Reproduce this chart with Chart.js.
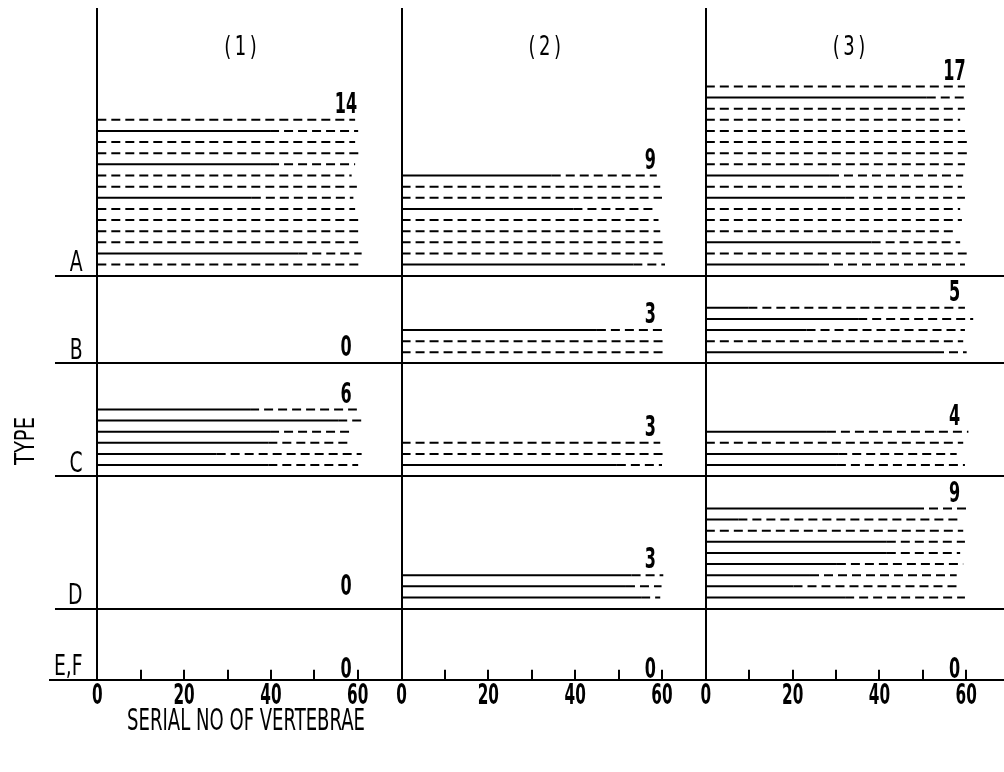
<!DOCTYPE html>
<html><head><meta charset="utf-8">
<script src="https://cdn.jsdelivr.net/npm/chart.js@4.4.1/dist/chart.umd.min.js"></script>
<style>html,body{margin:0;padding:0;background:#fff;}canvas{display:block;}</style>
</head><body>
<canvas id="c" width="1004" height="772"></canvas>
<script>
// ---------------- data ----------------
const COLUMN_LABELS = ['(1)', '(2)', '(3)'];
const TYPE_LABELS = ['A', 'B', 'C', 'D', 'E,F'];
const X_TICK_VALUES = [0, 10, 20, 30, 40, 50, 60];
const X_TICK_LABELS = ['0', '', '20', '', '40', '', '60'];
const X_TITLE = 'SERIAL NO OF VERTEBRAE';
const Y_TITLE = 'TYPE';

// each entry: [end of solid part, end of whole line] (serial no), listed top to bottom
const A1 = [[0,59.4],[39.8,60.1],[0,59.4],[0,60.5],[39.8,59.4],[0,58.6],[0,59.8],[35.6,59],[0,59.4],[0,60.1],[0,60.1],[0,60.1],[46.3,60.9],[0,60.9]];
const B1 = [];
const C1 = [[35.2,59.8],[55.5,60.9],[39.8,59],[39.4,58.6],[27.5,60.9],[39.4,60.1]];
const D1 = [];
const EF1 = [];

const A2 = [[34.6,58.8],[0,59.6],[0,60],[39.6,58.8],[0,59.2],[0,59.6],[0,60.7],[0,60.7],[53.4,60.7]];
const B2 = [[45,61.1],[0,61.1],[0,60.7]];
const C2 = [[0,59.6],[0,61.1],[49.6,60]];
const D2 = [[53,60.3],[51.7,59.9],[55.2,59.6]];
const EF2 = [];

const A3 = [[0,59.7],[50.9,59.7],[0,59.7],[0,58.6],[0,59.7],[0,60.5],[0,60.5],[0,59.7],[28.6,59.3],[0,59],[32.1,59.7],[0,58.6],[0,59],[0,57.4],[38.2,58.6],[0,60.1],[26.3,59.7]];
const B3 = [[9.8,59.7],[35.1,61.6],[23.2,59.7],[0,59.3],[52.8,60.1]];
const C3 = [[27.9,60.5],[0,59.3],[30.5,57.8],[30.2,59.7]];
const D3 = [[48.2,60.1],[7.5,58.6],[0,59.3],[41.7,59.7],[41.7,58.6],[30.2,59.3],[24,57.8],[20.2,58.6],[32.1,59.7]];
const EF3 = [];

const PANELS = [
  [A1, B1, C1, D1, EF1],
  [A2, B2, C2, D2, EF2],
  [A3, B3, C3, D3, EF3]
];

// ---------------- layout ----------------
const X_MIN = -10.9, X_MAX = 208.9;
const COL_OFFSET = [0, 70.1, 140.2];
const Y_MAX = 60.36;
const ROW_BASE = [36.31, 28.42, 18.29, 6.4, 0];
const ROW_LINE_START = -9.75;
const ZERO_LIFT = [2, 1.6, 2, 2.16, 1.1];
const FONT = '"Liberation Sans Narrow", "DejaVu Sans Condensed", sans-serif';

function lineY(row, idx, n) { return ROW_BASE[row] + 1 + (n - 1 - idx); }

const datasets = [];
PANELS.forEach((col, c) => {
  col.forEach((lines, r) => {
    lines.forEach((ln, i) => {
      const y = lineY(r, i, lines.length);
      const off = COL_OFFSET[c];
      datasets.push({
        data: [{x: off, y}, {x: off + ln[0], y}, {x: off + ln[1], y}],
        borderColor: '#000', borderWidth: 2, pointRadius: 0, showLine: true,
        borderCapStyle: 'butt', tension: 0,
        segment: { borderDash: ctx => ctx.p0DataIndex === 0 ? [] : [9, 5] }
      });
    });
  });
});

const allTicks = [];
COL_OFFSET.forEach(off => X_TICK_VALUES.forEach(v => allTicks.push(off + v)));

function tickLabel(value) {
  for (let c = 0; c < COL_OFFSET.length; c++) {
    for (let j = 0; j < X_TICK_VALUES.length; j++) {
      if (Math.abs(COL_OFFSET[c] + X_TICK_VALUES[j] - value) < 1e-6) return X_TICK_LABELS[j];
    }
  }
  return '';
}

function drawText(ctx, text, x, y, o) {
  ctx.save();
  ctx.translate(x, y);
  if (o.rotate) ctx.rotate(o.rotate);
  ctx.font = o.font;
  let sx = o.sx || 1;
  const sy = o.sy || 1;
  if (o.width) sx = o.width / ctx.measureText(text).width;
  ctx.scale(sx, sy);
  ctx.fillStyle = '#000';
  ctx.textAlign = o.align || 'center';
  ctx.textBaseline = 'alphabetic';
  ctx.fillText(text, 0, o.size * 0.36);
  ctx.restore();
}

const framePlugin = {
  id: 'frame',
  beforeDatasetsDraw(chart) {
    const {ctx} = chart;
    const xs = chart.scales.x, ys = chart.scales.y;
    ctx.save();
    ctx.strokeStyle = '#000';
    ctx.lineWidth = 2;
    for (let r = 0; r < ROW_BASE.length - 1; r++) {
      const y = Math.round(ys.getPixelForValue(ROW_BASE[r]));
      ctx.beginPath();
      ctx.moveTo(xs.getPixelForValue(ROW_LINE_START), y);
      ctx.lineTo(xs.getPixelForValue(X_MAX), y);
      ctx.stroke();
    }
    COL_OFFSET.forEach(off => {
      const x = Math.round(xs.getPixelForValue(off));
      ctx.beginPath();
      ctx.moveTo(x, ys.getPixelForValue(Y_MAX));
      ctx.lineTo(x, ys.getPixelForValue(0));
      ctx.stroke();
    });
    const yb = ys.getPixelForValue(0);
    COL_OFFSET.forEach(off => X_TICK_VALUES.forEach(v => {
      if (v === 0) return;
      const x = Math.round(xs.getPixelForValue(off + v));
      ctx.beginPath();
      ctx.moveTo(x, yb);
      ctx.lineTo(x, yb - 10);
      ctx.stroke();
    }));
    ctx.restore();
  },
  afterDraw(chart) {
    const {ctx} = chart;
    const xs = chart.scales.x, ys = chart.scales.y;
    // x tick labels, taken from the axis' own ticks (drawn condensed)
    const yb = ys.getPixelForValue(0);
    xs.ticks.forEach((t, i) => {
      const lab = tickLabel(t.value);
      if (!lab) return;
      drawText(ctx, lab, xs.getPixelForTick(i), yb + 14,
        {font: 'bold 20px ' + FONT, size: 20, sx: 0.85, sy: 1.38});
    });
    COLUMN_LABELS.forEach((t, c) => {
      const lab = t.split('').join('\u2009');
      drawText(ctx, lab, xs.getPixelForValue(COL_OFFSET[c] + 33), 45, {font: '20px ' + FONT, size: 20, sy: 1.35});
    });
    TYPE_LABELS.forEach((t, r) => {
      drawText(ctx, t, xs.getPixelForValue(-3.4), ys.getPixelForValue(ROW_BASE[r] + 1.3),
        {font: '22px ' + FONT, size: 22, sx: 0.95, sy: 1.28, align: 'right'});
    });
    PANELS.forEach((col, c) => col.forEach((lines, r) => {
      const n = lines.length;
      const yv = n > 0 ? lineY(r, 0, n) + 1.55 : ROW_BASE[r] + ZERO_LIFT[r];
      drawText(ctx, String(n), xs.getPixelForValue(COL_OFFSET[c] + 57.3), ys.getPixelForValue(yv),
        {font: 'bold 21px ' + FONT, size: 21, sx: 0.85, sy: 1.38});
    }));
    drawText(ctx, X_TITLE, 246, 719, {font: '22px ' + FONT, size: 22, sy: 1.4, width: 238});
    drawText(ctx, Y_TITLE, 25, 441, {font: '20px ' + FONT, size: 20, sy: 1.3, width: 48, rotate: -Math.PI / 2});
  }
};

new Chart(document.getElementById('c'), {
  type: 'scatter',
  data: { datasets },
  options: {
    responsive: false, animation: false, devicePixelRatio: 1,
    layout: { padding: { left: 50, right: 0, top: 8, bottom: 57 } },
    plugins: { legend: { display: false }, tooltip: { enabled: false } },
    scales: {
      x: {
        type: 'linear', min: X_MIN, max: X_MAX,
        afterBuildTicks: s => { s.ticks = allTicks.map(v => ({value: v})); },
        ticks: {
          autoSkip: false, maxRotation: 0, minRotation: 0, padding: 2,
          color: 'rgba(0,0,0,0)', font: { family: FONT, size: 26, weight: 'bold' },
          callback: v => tickLabel(v)
        },
        grid: { display: false, drawTicks: false },
        border: { display: true, color: '#000', width: 2 }
      },
      y: { type: 'linear', min: 0, max: Y_MAX, display: false }
    }
  },
  plugins: [framePlugin]
});
</script>
</body></html>
